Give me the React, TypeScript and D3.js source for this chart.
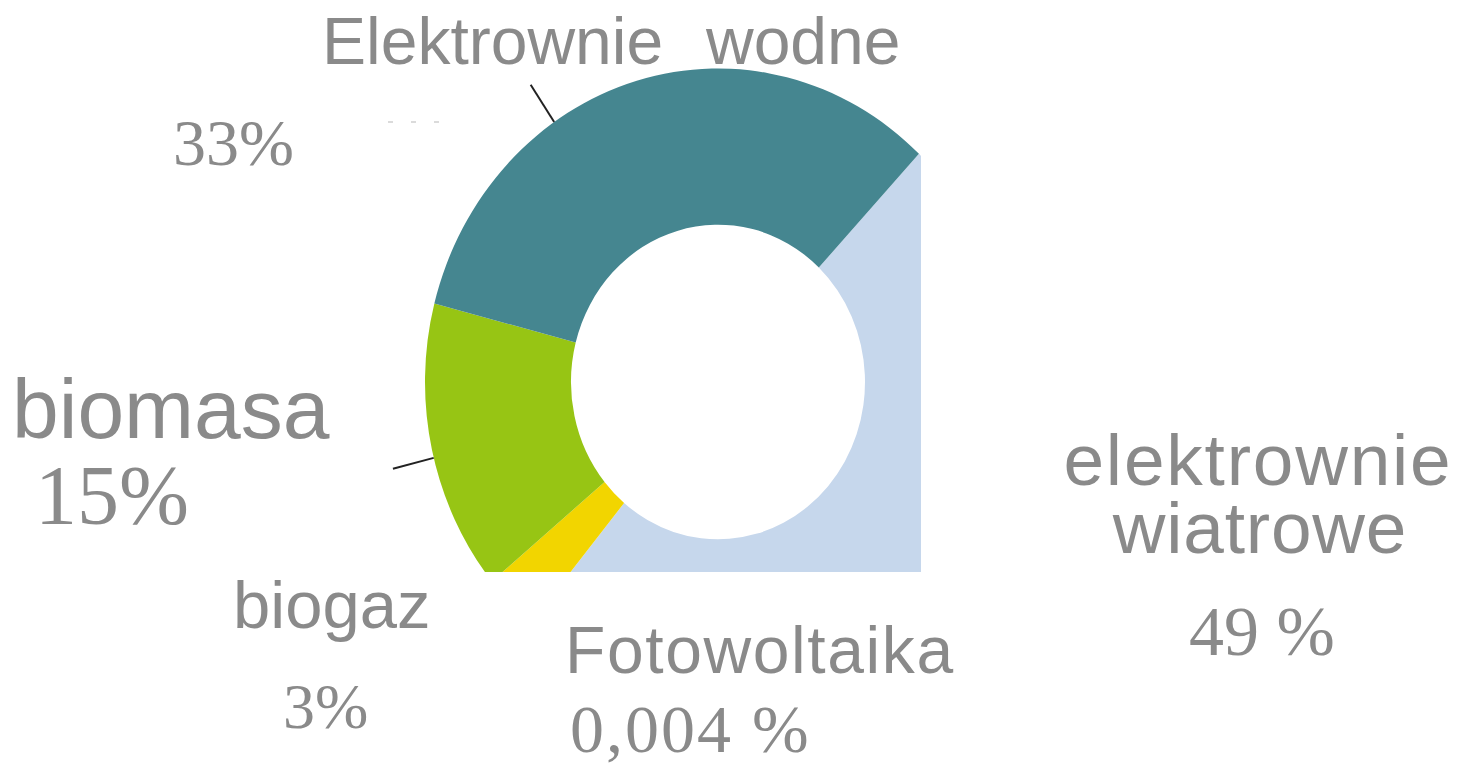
import React from 'react';
import * as d3 from 'd3';

// shares of renewable electricity, clockwise from the wind slice
const sources = ['elektrownie wiatrowe', 'Fotowoltaika', 'biogaz', 'biomasa', 'Elektrownie wodne'];
const shares = [49, 0.004, 3, 15, 33];
const colors = ['#c6d7ec', '#c6d7ec', '#f2d500', '#97c514', '#458690'];

// leader lines (angle in degrees, clockwise from top)
const leaderSources = ['Elektrownie wodne', 'biomasa'];
const leaderAngles = [326, 256];

const W = 1467;
const H = 766;
const cx = 718;
const cy = 382;
const squash = 1.07; // the source donut is a bit taller than wide
const rOuter = 293;
const rInner = 147;
const grey = '#8a8a8a';
const sans = "'Liberation Sans', Arial, sans-serif";
const serif = "'Liberation Serif', 'Times New Roman', serif";

const App: React.FC = () => {
  const pie = d3
    .pie<number>()
    .sort(null)
    .startAngle((43.3 * Math.PI) / 180)
    .endAngle((43.3 * Math.PI) / 180 + 2 * Math.PI);
  const arcs = pie(shares);
  const arc = d3.arc<d3.PieArcDatum<number>>().innerRadius(rInner).outerRadius(rOuter);

  const leaders = leaderSources.map((s, i) => {
    const a = (leaderAngles[i] * Math.PI) / 180;
    const [x1, y1] = d3.pointRadial(a, rOuter);
    const [x2, y2] = d3.pointRadial(a, rOuter + 42);
    return { s, x1, y1: y1 * squash, x2, y2: y2 * squash };
  });

  return (
    <svg
      width={W}
      height={H}
      style={{ position: 'absolute', left: 0, top: 0, background: '#fff' }}
    >
      <defs>
        <clipPath id="donutClip">
          <rect x={0} y={0} width={921} height={572} />
        </clipPath>
      </defs>

      <g clipPath="url(#donutClip)">
        <g transform={`translate(${cx},${cy}) scale(1,${squash})`}>
          {arcs.map((d, i) => (
            <path key={sources[i]} d={arc(d) || ''} fill={colors[i]} />
          ))}
        </g>
      </g>

      {/* leader lines */}
      <g transform={`translate(${cx},${cy})`}>
        {leaders.map(l => (
          <line key={l.s} x1={l.x1} y1={l.y1} x2={l.x2} y2={l.y2} stroke="#222" strokeWidth={2} />
        ))}
      </g>
      <line x1={388} y1={122} x2={442} y2={122} stroke="#d0d0d0" strokeWidth={1.5} strokeDasharray="5,18" />

      {/* labels */}
      <g fill={grey}>
        <text x={322} y={64} fontFamily={sans} fontSize={66}>
          Elektrownie
          <tspan x={706}>wodne</tspan>
        </text>
        <text x={173} y={165} fontFamily={serif} fontSize={66}>33%</text>

        <text x={12} y={438} fontFamily={sans} fontSize={84}>biomasa</text>
        <text x={35} y={524} fontFamily={serif} fontSize={84}>15%</text>

        <text x={233} y={628} fontFamily={sans} fontSize={67}>biogaz</text>
        <text x={283} y={728} fontFamily={serif} fontSize={64}>3%</text>

        <text x={565} y={673} fontFamily={sans} fontSize={66} letterSpacing={1.6}>Fotowoltaika</text>
        <text x={570} y={752} fontFamily={serif} fontSize={68} letterSpacing={2}>0,004 %</text>

        <text fontFamily={sans} fontSize={73} textAnchor="middle">
          <tspan x={1258} y={485} letterSpacing={1.8}>elektrownie</tspan>
          <tspan x={1260} y={553} letterSpacing={0.8}>wiatrowe</tspan>
        </text>
        <text x={1262} y={655} fontFamily={serif} fontSize={70} textAnchor="middle">49 %</text>
      </g>
    </svg>
  );
};

export default App;
